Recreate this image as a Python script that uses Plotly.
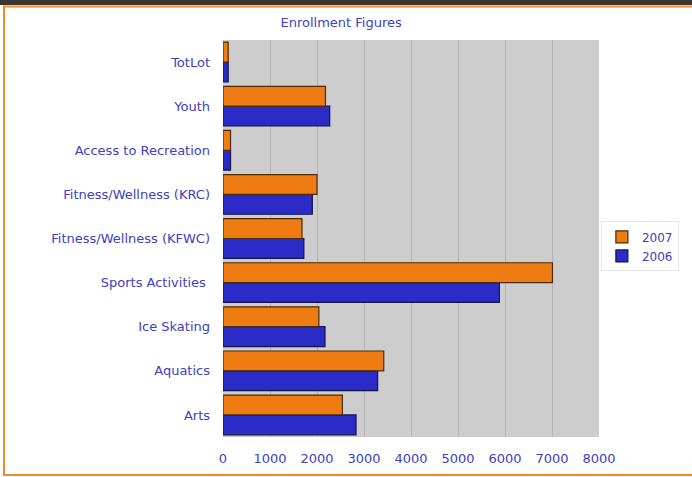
import plotly.graph_objects as go

categories = ["Arts", "Aquatics", "Ice Skating", "Sports Activities ",
              "Fitness/Wellness (KFWC)", "Fitness/Wellness (KRC)",
              "Access to Recreation", "Youth", "TotLot"]
values_2006 = [2830, 3290, 2170, 5880, 1720, 1900, 160, 2270, 110]
values_2007 = [2540, 3420, 2040, 7010, 1680, 2000, 160, 2180, 110]
x_ticks = [0, 1000, 2000, 3000, 4000, 5000, 6000, 7000, 8000]

label_color = "#4040C0"
font_family = "DejaVu Sans, Verdana, sans-serif"

fig = go.Figure()
fig.add_trace(go.Bar(
    y=categories, x=values_2006, name="2006", orientation="h",
    marker=dict(color="#2B2BC8", line=dict(color="#14144A", width=1.2)),
))
fig.add_trace(go.Bar(
    y=categories, x=values_2007, name="2007", orientation="h",
    marker=dict(color="#EE7C12", line=dict(color="#4A2A08", width=1.2)),
))

W, H = 692, 477
ml, mr, mt, mb = 223, 93, 40, 40
pw, ph = W - ml - mr, H - mt - mb


def px_x(p):
    return (p - ml) / pw


def px_y(p):
    return (H - mb - p) / ph


shapes = [
    # dark top band
    dict(type="rect", xref="paper", yref="paper",
         x0=px_x(0), x1=px_x(W), y0=px_y(0), y1=px_y(5),
         fillcolor="#3A3631", line=dict(width=0), layer="above"),
    # orange frame
    dict(type="rect", xref="paper", yref="paper",
         x0=px_x(4), x1=px_x(W + 5), y0=px_y(475), y1=px_y(6.5),
         fillcolor="rgba(0,0,0,0)", line=dict(color="#F08A30", width=2)),
]

fig.update_layout(
    width=W, height=H,
    margin=dict(l=ml, r=mr, t=mt, b=mb, pad=0),
    paper_bgcolor="white",
    plot_bgcolor="#CDCDCD",
    barmode="group",
    bargap=0.1,
    bargroupgap=0,
    font=dict(family=font_family, size=13, color=label_color),
    title=dict(text="Enrollment Figures", x=0.493, xanchor="center",
               y=1 - 22 / H, yanchor="middle",
               font=dict(family=font_family, size=13, color=label_color)),
    xaxis=dict(range=[0, 8000], tickvals=x_ticks,
               ticktext=[str(v) for v in x_ticks],
               showgrid=True, gridcolor="#B4B4B4", gridwidth=1,
               zeroline=False, showline=False,
               ticks="", ticklabelstandoff=12,
               tickfont=dict(size=13, color=label_color)),
    yaxis=dict(showgrid=False, zeroline=False, showline=False,
               ticks="", ticklabelstandoff=12,
               tickfont=dict(size=13, color=label_color)),
    legend=dict(x=1.005, xanchor="left", y=0.48, yanchor="middle",
                traceorder="reversed", bgcolor="white",
                bordercolor="#E4E4EC", borderwidth=1,
                font=dict(size=12, color=label_color),
                itemwidth=30),
    shapes=shapes,
    showlegend=True,
)

fig.write_html("out.html",
               config={"displayModeBar": False},
               post_script="document.body.style.margin='0';")
